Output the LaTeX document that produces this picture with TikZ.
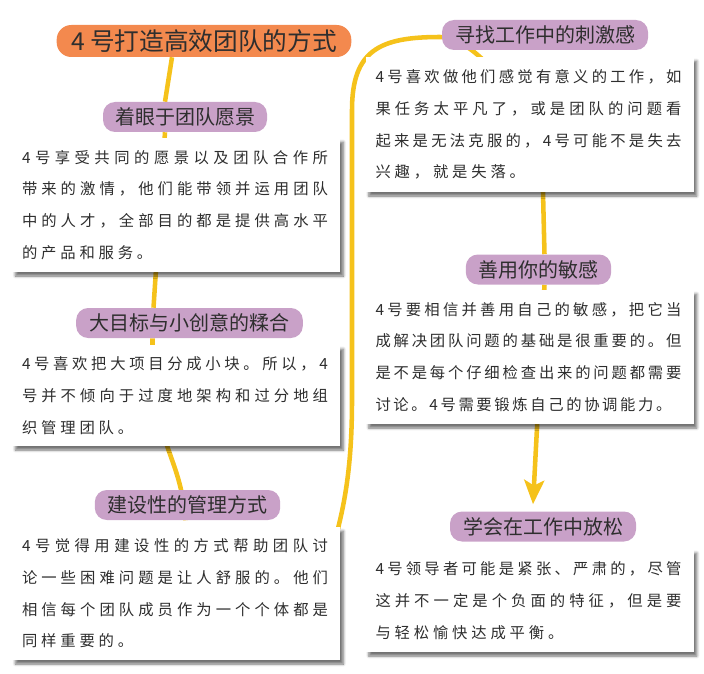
\documentclass[tikz,border=0pt]{standalone}
\usepackage{fontspec}
\newfontfamily\cjkfont{Noto Sans CJK SC}
\newfontfamily\cjkbody[LetterSpace=25]{Noto Sans CJK SC}
\usetikzlibrary{arrows.meta,calc,shadows,shadows.blur,backgrounds}
\definecolor{titleorange}{HTML}{F3894E}
\definecolor{headmauve}{HTML}{C9A1C8}
\definecolor{linkyellow}{HTML}{F5C21B}
\definecolor{inkgray}{HTML}{2E2E2E}
% one full line of body text, spread to the box width
\makeatletter
\def\jline#1{\makebox[229.5pt][s]{\cjkfont\jl@first#1\relax}}
\def\jl@first#1{#1\jl@rest}
\def\jl@rest#1{\ifx\relax#1\else\hfill#1\expandafter\jl@rest\fi}
\makeatother
\tikzset{
  titlebox/.style={fill=titleorange,rounded corners=11pt,minimum width=221pt,
    minimum height=24pt,inner sep=0pt,text=inkgray,
    font=\cjkfont\fontsize{18.5}{22}\selectfont},
  headbox/.style={fill=headmauve,rounded corners=9pt,minimum height=22.5pt,
    inner sep=0pt,text=inkgray,font=\cjkfont\fontsize{15}{18}\selectfont},
  txtbox/.style={fill=white,text=inkgray,align=left,text width=231pt,
    inner xsep=7.5pt,inner ysep=0pt,
    font=\cjkbody\fontsize{11.5}{23.8}\selectfont,
    blur shadow={shadow xshift=2.5pt,shadow yshift=-3pt,shadow blur radius=2pt,
      shadow blur steps=6,shadow opacity=55}},
  link/.style={draw=linkyellow,line width=3.4pt},
  linkarrow/.style={link,-{Stealth[length=18pt,width=15pt,inset=4pt]}},
}

\begin{document}
\begin{tikzpicture}[x=0.75pt,y=-0.75pt]
  \useasboundingbox (0,0) rectangle (704,674);
  % boxes
  \node[txtbox,minimum height=100.5pt] (b1) at (176,205)
    {\jline{4 号享受共同的愿景以及团队合作所}\\\jline{带来的激情，他们能带领并运用团队}\\\jline{中的人才，全部目的都是提供高水平}\\的产品和服务。};
  \node[txtbox,minimum height=75.75pt] (b2) at (176,395.5)
    {\jline{4 号喜欢把大项目分成小块。所以，4}\\\jline{号并不倾向于过度地架构和过分地组}\\织管理团队。};
  \node[txtbox,minimum height=99.75pt] (b3) at (176,593.5)
    {\jline{4 号觉得用建设性的方式帮助团队讨}\\\jline{论一些困难问题是让人舒服的。他们}\\\jline{相信每个团队成员作为一个个体都是}\\同样重要的。};
  \node[txtbox,minimum height=101.25pt] (b4) at (529.5,124.5)
    {\jline{4 号喜欢做他们感觉有意义的工作，如}\\\jline{果任务太平凡了，或是团队的问题看}\\\jline{起来是无法克服的，4 号可能不是失去}\\兴趣，就是失落。};
  \node[txtbox,minimum height=100.5pt] (b5) at (529.5,357)
    {\jline{4 号要相信并善用自己的敏感，把它当}\\\jline{成解决团队问题的基础是很重要的。但}\\\jline{是不是每个仔细检查出来的问题都需要}\\\makebox[222pt][s]{\cjkfont 讨\hfill 论\hfill 。\hfill 4\hfill 号\hfill 需\hfill 要\hfill 锻\hfill 炼\hfill 自\hfill 己\hfill 的\hfill 协\hfill 调\hfill 能\hfill 力\hfill 。}};
  \node[txtbox,minimum height=77.25pt] (b6) at (529.5,600.5)
    {\jline{4 号领导者可能是紧张、严肃的，尽管}\\\jline{这并不一定是个负面的特征，但是要}\\与轻松愉快达成平衡。};
  % title and headings
  \node[titlebox] (t) at (204,41) {4 号打造高效团队的方式};
  \node[headbox,minimum width=123pt] (h1) at (185,117) {着眼于团队愿景};
  \node[headbox,minimum width=170pt] (h2) at (189.5,323) {大目标与小创意的糅合};
  \node[headbox,minimum width=139pt] (h3) at (187.5,505) {建设性的管理方式};
  \node[headbox,minimum width=154.5pt] (h4) at (545,35) {寻找工作中的刺激感};
  \node[headbox,minimum width=109pt] (h5) at (538.5,269.5) {善用你的敏感};
  \node[headbox,minimum width=139.5pt] (h6) at (543,526.5) {学会在工作中放松};
  % connectors
  \begin{scope}[on background layer]
    \draw[link] ($(t.south)+(-32,0)$) -- ($(h1.north)+(-20,0)$);
    \draw[link] ($(h1.south)+(-20,0)$) -- ($(h2.north)+(-36,0)$);
    \draw[link] ($(h2.south)+(-37,0)$) .. controls (152,450) and (180,450) .. ($(h3.south)+(-2,0)$);
    \draw[link] ($(b3.north east)+(-5,12)$) .. controls (346,500) and (352,460) .. (352,400)
      -- (352,110) .. controls (352,50) and (380,37) .. (440,37)
      .. controls (480,37) and (543,120) .. (543,192) -- ($(h5.north)+(6,0)$);
    \draw[linkarrow] ($(h5.south)+(6,0)$) -- ($(h6.north)+(-10,-7)$);
  \end{scope}
\end{tikzpicture}
\end{document}
